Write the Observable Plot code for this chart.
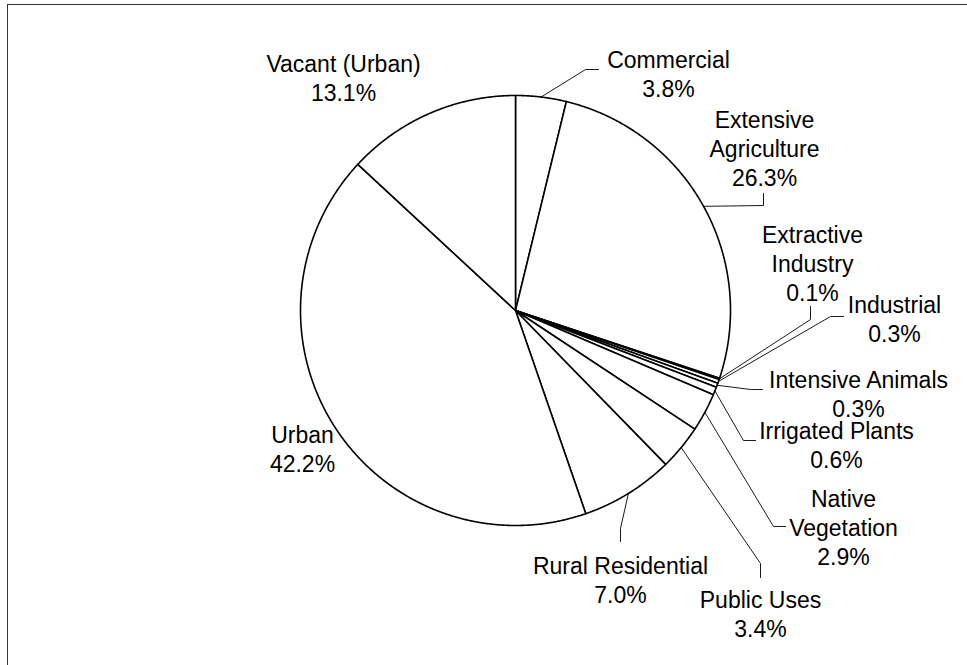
<!DOCTYPE html>
<html>
<head>
<meta charset="utf-8">
<script src="https://cdn.jsdelivr.net/npm/d3@7"></script>
<script src="https://cdn.jsdelivr.net/npm/@observablehq/plot@0.6"></script>
<style>
  html, body { margin: 0; padding: 0; background: #fff; overflow: hidden; }
  #wrap { position: relative; width: 967px; height: 665px; overflow: hidden; }
  #frame { position: absolute; left: 7px; top: 3.5px; width: 2000px; height: 2000px;
           border-top: 1.6px solid #333; border-left: 1.6px solid #333; pointer-events: none; }
  #chart { position: absolute; left: 0; top: 0; }
</style>
</head>
<body>
<div id="wrap"><div id="chart"></div><div id="frame"></div></div>
<script>
// ---- data (clockwise from 12 o'clock) ----
const categories = ["Commercial", "Extensive Agriculture", "Extractive Industry", "Industrial",
  "Intensive Animals", "Irrigated Plants", "Native Vegetation", "Public Uses",
  "Rural Residential", "Urban", "Vacant (Urban)"];
const shares = [3.8, 26.3, 0.1, 0.3, 0.3, 0.6, 2.9, 3.4, 7.0, 42.2, 13.1];
const labelLines = [["Commercial"], ["Extensive", "Agriculture"], ["Extractive", "Industry"], ["Industrial"],
  ["Intensive Animals"], ["Irrigated Plants"], ["Native", "Vegetation"], ["Public Uses"],
  ["Rural Residential"], ["Urban"], ["Vacant (Urban)"]];

// ---- layout (pixels) ----
const W = 967, H = 665;
const CX = 515, CY = 310, R = 215;
const FONT = 23, LINE = 29;
// label block: centre x, first baseline y
const labelX = [668, 764, 812, 894, 858, 836, 843, 760, 620, 302, 343];
const labelY = [63, 123, 238, 308, 383, 434, 502, 603, 569, 438, 67];
// leader elbows / ends (null = no leader)
const leaderElbow = [[585, 69], [763, 205], [810, 319], [830, 316], [750, 389], [743, 440], [773, 526], [760, 563], [620, 528], null, null];
const leaderEnd   = [[598, 69], [763, 193], [810, 306], [843, 316], [762, 389], [755, 440], [785, 526], [760, 577], [620, 541], null, null];

const table = categories.map((c, i) => ({category: c, share: shares[i], i}));
const arcs = d3.pie().sort(null).value(d => d.share).startAngle(0).endAngle(2 * Math.PI)(table);
const px = a => CX + R * Math.sin(a);
const py = a => CY - R * Math.cos(a);

// slice outlines
const slicePts = [];
arcs.forEach(a => {
  const key = a.data.category;
  slicePts.push({k: key, x: CX, y: CY});
  const n = Math.max(2, Math.ceil((a.endAngle - a.startAngle) / (Math.PI / 720)));
  for (let j = 0; j <= n; j++) {
    const t = a.startAngle + (a.endAngle - a.startAngle) * j / n;
    slicePts.push({k: key, x: px(t), y: py(t)});
  }
  slicePts.push({k: key, x: CX, y: CY});
});

// leaders
const leaderPts = [];
arcs.forEach((a, i) => {
  if (!leaderElbow[i]) return;
  const m = (a.startAngle + a.endAngle) / 2;
  const key = a.data.category;
  leaderPts.push({k: key, x: px(m), y: py(m)});
  leaderPts.push({k: key, x: leaderElbow[i][0], y: leaderElbow[i][1]});
  leaderPts.push({k: key, x: leaderEnd[i][0], y: leaderEnd[i][1]});
});

// labels
const fmt = d3.format(".1f");
const labels = table.map((d, i) => ({
  text: [...labelLines[i], fmt(d.share) + "%"].join("\n"),
  x: labelX[i],
  y: labelY[i] - 0.71 * FONT
}));

const chart = Plot.plot({
  width: W, height: H,
  margin: 0,
  style: {background: "white", fontFamily: "'Liberation Sans', Arial, sans-serif"},
  x: {domain: [0, W], range: [0, W], axis: null},
  y: {domain: [0, H], range: [0, H], axis: null},
  marks: [
    Plot.line(slicePts, {x: "x", y: "y", z: "k", fill: "white", stroke: "#000", strokeWidth: 1.6, strokeLinejoin: "round", curve: "linear"}),
    Plot.line(leaderPts, {x: "x", y: "y", z: "k", stroke: "#000", strokeWidth: 0.9, curve: "linear"}),
    Plot.text(labels, {x: "x", y: "y", text: "text", lineAnchor: "top", textAnchor: "middle",
      fontSize: FONT, lineHeight: LINE / FONT, fill: "#000"})
  ]
});
document.getElementById("chart").appendChild(chart);
</script>
</body>
</html>
